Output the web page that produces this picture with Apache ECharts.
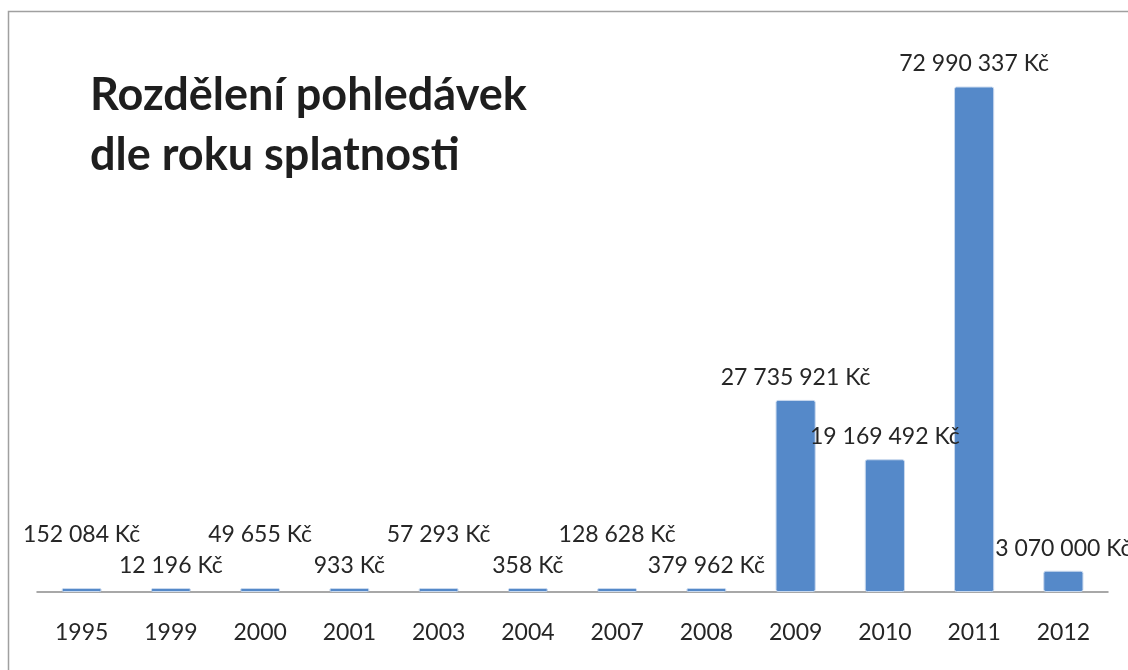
<!DOCTYPE html>
<html>
<head>
<meta charset="utf-8">
<script src="https://cdn.jsdelivr.net/npm/echarts@6/dist/echarts.min.js"></script>
<style>
  html, body { margin: 0; padding: 0; background: #fff; }
  #chart { width: 1128px; height: 670px; }
</style>
</head>
<body>
<div id="chart"></div>
<script>
// data
var years = ['1995', '1999', '2000', '2001', '2003', '2004', '2007', '2008', '2009', '2010', '2011', '2012'];
var amounts = [152084, 12196, 49655, 933, 57293, 358, 128628, 379962, 27735921, 19169492, 72990337, 3070000];

function fmtKc(v) {
    return String(v).replace(/\B(?=(\d{3})+(?!\d))/g, ' ') + ' Kč';
}

var myChart = echarts.init(document.getElementById('chart'));

// small bars: labels alternate up / down so they do not collide
var barData = amounts.map(function (v, i) {
    var lifted = v < 1000000 && i % 2 === 0;
    return {
        value: v,
        label: { offset: [0, lifted ? -31 : 0] }
    };
});

var option = {
    animation: false,
    textStyle: { fontFamily: 'Lato' },
    title: {
        text: 'Rozdělení pohledávek\ndle roku splatnosti',
        left: 85,
        top: 60,
        textStyle: {
            fontFamily: 'Lato',
            fontSize: 45,
            fontWeight: 'bold',
            color: '#1e1e1e',
            lineHeight: 60
        }
    },
    graphic: [{
        type: 'rect',
        shape: { x: 8.5, y: 11.5, width: 1200, height: 700 },
        style: { fill: 'none', stroke: '#a0a0a0', lineWidth: 1.5 },
        silent: true
    }],
    grid: { left: 37, right: 20, top: 38, bottom: 78 },
    xAxis: {
        type: 'category',
        data: years,
        axisLine: { lineStyle: { color: '#8c8c8c', width: 1.5 } },
        axisTick: { show: false },
        axisLabel: { color: '#262626', fontSize: 23, margin: 29 }
    },
    yAxis: {
        type: 'value',
        min: 0,
        max: 80000000,
        show: false,
        splitLine: { show: false }
    },
    series: [{
        type: 'bar',
        data: barData,
        barWidth: '45%',
        barMinHeight: 4,
        itemStyle: {
            color: '#5589c9',
            borderColor: '#c9d9ee',
            borderWidth: 1,
            borderRadius: 2
        },
        label: {
            show: true,
            position: 'top',
            distance: 11,
            color: '#262626',
            fontSize: 23,
            formatter: function (p) { return fmtKc(p.value); }
        }
    }]
};

myChart.setOption(option);
</script>
</body>
</html>
